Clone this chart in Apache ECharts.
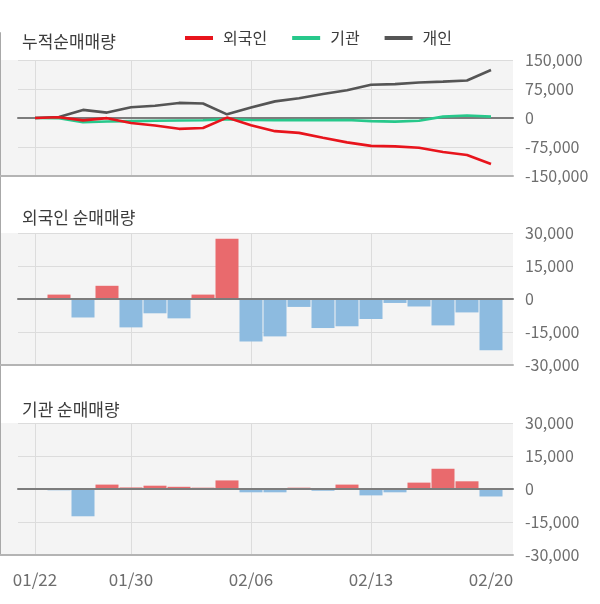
<!DOCTYPE html>
<html>
<head>
<meta charset="utf-8">
<script src="https://cdn.jsdelivr.net/npm/echarts@6/dist/echarts.min.js"></script>
<style>
html,body{margin:0;padding:0;background:#fff;}
#chart{width:600px;height:604px;}
</style>
</head>
<body>
<div id="chart"></div>
<script>
// ---- data ----
var dates = ['01/22','01/23','01/28','01/29','01/30','01/31','02/03','02/04','02/05','02/06','02/07','02/10','02/11','02/12','02/13','02/14','02/17','02/18','02/19','02/20'];
var labelIdx = [0, 4, 9, 14, 19];
var gridIdx = [0, 4, 9, 14];

var foreignCum = [0, 2000, -6200, -400, -13000, -19500, -28000, -26000, 1000, -18500, -34000, -38500, -51000, -63000, -72000, -73500, -77000, -88000, -95500, -119000];
var instCum = [0, -600, -11000, -9000, -8000, -7000, -6500, -6000, -3000, -5000, -6000, -5500, -6000, -5000, -8000, -9500, -7000, 3500, 6500, 3500];
var indivCum = [0, 2500, 21000, 14000, 28000, 31500, 39000, 37400, 9400, 27000, 43000, 51000, 62000, 72000, 86000, 87500, 92000, 94000, 97000, 124000];

var foreignNet = [0, 2000, -8400, 6000, -12900, -6500, -8800, 2000, 27400, -19300, -17000, -3600, -13200, -12400, -9100, -1800, -3400, -12000, -6100, -23300];
var instNet = [0, -600, -12400, 2000, 700, 1500, 1000, 600, 3900, -1500, -1500, 600, -800, 2000, -2900, -1500, 2900, 9200, 3500, -3400];

var cumTicks = [-150000, 150000, 75000];
var netTicks = [-30000, 30000, 15000];

var titles = ['누적순매매량', '외국인 순매매량', '기관 순매매량'];
var seriesNames = ['외국인', '기관', '개인'];

// ---- styles ----
var FONT = 'Noto Sans CJK KR';
var RED = '#e8141c', GREEN = '#27c88b', DARK = '#555555';
var BAR_UP = '#e96a6d', BAR_DN = '#8dbbe0';
var panels = [
  {top: 60, height: 116, ticks: cumTicks},
  {top: 233, height: 132, ticks: netTicks},
  {top: 423, height: 132, ticks: netTicks}
];
var X_BG_MIN = -35 / 24, X_MAX = 19 + 22 / 24, X_MAIN_MIN = -17 / 24;

function pairs(arr) { return arr.map(function (v, i) { return [i, v]; }); }
function fmt(v) { return v.toLocaleString('en-US'); }

var grids = [], xAxes = [], yAxes = [], series = [], titleOpts = [];

panels.forEach(function (p, k) {
  // background grid (index 2k)
  grids.push({left: 0, width: 513, top: p.top, height: p.height, show: true,
    backgroundColor: '#f4f4f4', borderWidth: 0, containLabel: false});
  xAxes.push({
    gridIndex: 2 * k, type: 'value', min: X_BG_MIN, max: X_MAX,
    axisLine: {show: true, onZero: false, lineStyle: {color: '#b4b4b4', width: 2}},
    axisTick: {show: false, customValues: gridIdx},
    axisLabel: k === 2 ? {show: true, customValues: labelIdx, margin: 16,
      color: '#6e6e6e', fontSize: 17, fontFamily: FONT,
      formatter: function (v) { return dates[Math.round(v)]; }} : {show: false},
    splitLine: {show: true, lineStyle: {color: '#dcdcdc', width: 1}}
  });
  yAxes.push({gridIndex: 2 * k, type: 'value', min: 0, max: 1, show: false});

  // main grid (index 2k+1)
  grids.push({left: 18, width: 495, top: p.top, height: p.height, show: false, containLabel: false});
  xAxes.push({
    gridIndex: 2 * k + 1, type: 'value', min: X_MAIN_MIN, max: X_MAX, z: k === 0 ? 0 : 5,
    axisLine: {show: true, onZero: true, lineStyle: {color: '#7c7c7c', width: 2}},
    axisTick: {show: false}, axisLabel: {show: false}, splitLine: {show: false}
  });
  yAxes.push({
    gridIndex: 2 * k + 1, type: 'value', position: 'right',
    min: p.ticks[0], max: p.ticks[1], interval: p.ticks[2],
    axisLine: {show: false}, axisTick: {show: false},
    axisLabel: {margin: 12, color: '#6e6e6e', fontSize: 16, fontFamily: FONT, formatter: fmt},
    splitLine: {show: true, lineStyle: {color: '#dcdcdc', width: 1}}
  });
});

// long right axis line
grids.push({left: 0, width: 513, top: 33, bottom: 49, show: false});
xAxes.push({gridIndex: 6, type: 'value', min: 0, max: 1, show: false});
yAxes.push({gridIndex: 6, type: 'value', position: 'right', min: 0, max: 1,
  axisLine: {show: true, lineStyle: {color: '#a8a8a8', width: 2}},
  axisTick: {show: false}, axisLabel: {show: false}, splitLine: {show: false}});

// cumulative lines
[[foreignCum, RED], [instCum, GREEN], [indivCum, DARK]].forEach(function (s, i) {
  series.push({
    name: seriesNames[i], type: 'line', xAxisIndex: 1, yAxisIndex: 1,
    data: pairs(s[0]), showSymbol: false, symbol: 'none', z: 3 + (i === 0 ? 2 : i === 1 ? 1 : 0),
    lineStyle: {color: s[1], width: 2.6}, itemStyle: {color: s[1]}
  });
});

// bars
[[foreignNet, 3], [instNet, 5]].forEach(function (b) {
  series.push({
    type: 'bar', xAxisIndex: b[1], yAxisIndex: b[1], data: pairs(b[0]),
    barWidth: 23, clip: false,
    itemStyle: {color: function (p) { return p.value[1] >= 0 ? BAR_UP : BAR_DN; }}
  });
});

[33, 209, 401].forEach(function (t, k) {
  titleOpts.push({text: titles[k], left: 22, top: t, padding: 0,
    textStyle: {fontSize: 17, fontWeight: 'normal', color: '#3c3c3c', fontFamily: FONT}});
});

var chart = echarts.init(document.getElementById('chart'), null, {renderer: 'canvas'});
chart.setOption({
  animation: false,
  backgroundColor: '#ffffff',
  title: titleOpts,
  legend: {
    data: seriesNames, left: 185, top: 30, padding: 0, itemGap: 25,
    icon: 'rect', itemWidth: 28, itemHeight: 4, selectedMode: false,
    textStyle: {fontSize: 16, color: '#3c3c3c', fontFamily: FONT, padding: [0, 0, 0, 5]}
  },
  grid: grids, xAxis: xAxes, yAxis: yAxes, series: series
});
</script>
</body>
</html>
